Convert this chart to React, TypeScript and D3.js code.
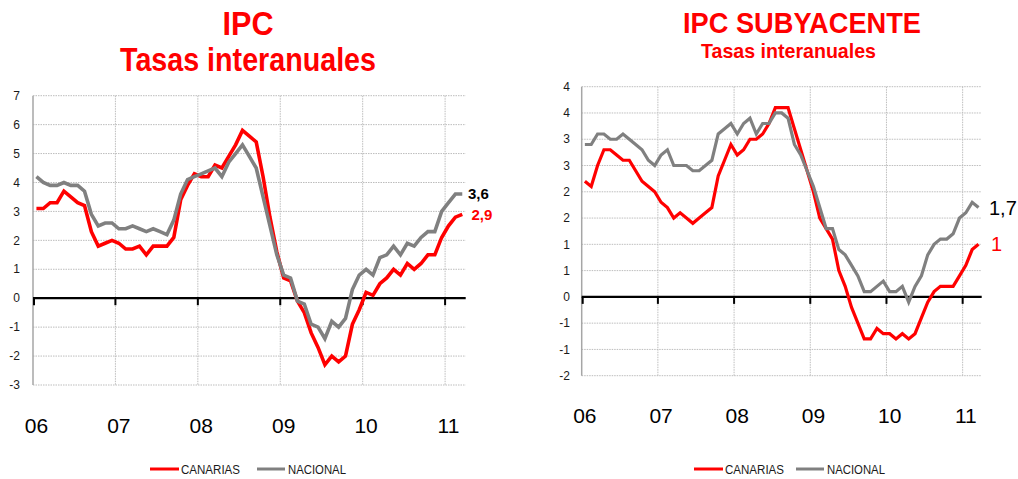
import React from 'react';
import * as d3 from 'd3';

const yearLabels = ['06', '07', '08', '09', '10', '11'];
const monthCodes = ['01', '02', '03', '04', '05', '06', '07', '08', '09', '10', '11', '12'];
const months = yearLabels.flatMap((y) => monthCodes.map((m) => `${m}/${y}`)).slice(0, 63);

const ipcCanarias = [
  3.1, 3.1, 3.3, 3.3, 3.7, 3.5, 3.3, 3.2, 2.3, 1.8, 1.9, 2.0,
  1.9, 1.7, 1.7, 1.8, 1.5, 1.8, 1.8, 1.8, 2.1, 3.4, 3.9, 4.3,
  4.2, 4.2, 4.6, 4.5, 4.9, 5.3, 5.8, 5.6, 5.4, 4.2, 2.8, 1.6,
  0.7, 0.6, -0.1, -0.5, -1.2, -1.7, -2.3, -2.0, -2.2, -2.0, -0.9, -0.4,
  0.2, 0.1, 0.5, 0.7, 1.0, 0.8, 1.2, 1.0, 1.2, 1.5, 1.5, 2.1,
  2.5, 2.8, 2.9,
];
const ipcNacional = [
  4.2, 4.0, 3.9, 3.9, 4.0, 3.9, 3.9, 3.7, 2.9, 2.5, 2.6, 2.6,
  2.4, 2.4, 2.5, 2.4, 2.3, 2.4, 2.3, 2.2, 2.7, 3.6, 4.1, 4.2,
  4.3, 4.4, 4.5, 4.2, 4.7, 5.0, 5.3, 4.9, 4.5, 3.5, 2.5, 1.5,
  0.8, 0.7, -0.1, -0.2, -0.9, -1.0, -1.4, -0.8, -1.0, -0.7, 0.3, 0.8,
  1.0, 0.8, 1.4, 1.5, 1.8, 1.5, 1.9, 1.8, 2.1, 2.3, 2.3, 3.0,
  3.3, 3.6, 3.6,
];
const subCanarias = [
  2.2, 2.1, 2.5, 2.8, 2.8, 2.7, 2.6, 2.6, 2.4, 2.2, 2.1, 2.0,
  1.8, 1.7, 1.5, 1.6, 1.5, 1.4, 1.5, 1.6, 1.7, 2.3, 2.6, 2.9,
  2.7, 2.8, 3.0, 3.0, 3.1, 3.3, 3.6, 3.6, 3.6, 3.2, 2.8, 2.4,
  2.0, 1.5, 1.3, 1.1, 0.5, 0.2, -0.2, -0.5, -0.8, -0.8, -0.6, -0.7,
  -0.7, -0.8, -0.7, -0.8, -0.7, -0.4, -0.1, 0.1, 0.2, 0.2, 0.2, 0.4,
  0.6, 0.9, 1.0,
];
const subNacional = [
  2.9, 2.9, 3.1, 3.1, 3.0, 3.0, 3.1, 3.0, 2.9, 2.8, 2.6, 2.5,
  2.7, 2.8, 2.5, 2.5, 2.5, 2.4, 2.4, 2.5, 2.6, 3.1, 3.2, 3.3,
  3.1, 3.3, 3.4, 3.1, 3.3, 3.3, 3.5, 3.5, 3.4, 2.9, 2.7, 2.4,
  2.1, 1.7, 1.3, 1.3, 0.9, 0.8, 0.6, 0.4, 0.1, 0.1, 0.2, 0.3,
  0.1, 0.1, 0.2, -0.1, 0.2, 0.4, 0.8, 1.0, 1.1, 1.1, 1.2, 1.5,
  1.6, 1.8, 1.7,
];
const ipcTicks = [-3, -2, -1, 0, 1, 2, 3, 4, 5, 6, 7];
const subTicks = [-1.5, -1, -0.5, 0, 0.5, 1, 1.5, 2, 2.5, 3, 3.5, 4];
const seriesNames = ['CANARIAS', 'NACIONAL'];
const ipcEndLabels = ['2,9', '3,6'];
const subEndLabels = ['1', '1,7'];

const RED = '#FF0000';
const GRAY = '#808080';
const GRID = '#BDBDBD';
const SANS = "'Liberation Sans', Arial, sans-serif";
const NARROW = "'Liberation Sans Narrow', 'Liberation Sans', Arial, sans-serif";

function Panel(props: any) {
  const { x0, x1, yTop, yBot, domain, ticks, fmt, canarias, nacional, lw, labelRight, yFont, xFont, xBase, endLabels, endStyle, legend } = props;
  const x = d3.scaleBand<string>().domain(months).range([x0, x1]).paddingInner(0).paddingOuter(0);
  const bw = x.bandwidth();
  const y = d3.scaleLinear().domain(domain).range([yBot, yTop]);
  const cx = (i: number) => (x(months[i]) as number) + bw / 2;
  const line = d3.line<number>().x((_, i) => cx(i)).y((d) => y(d));
  const yearIdx = yearLabels.map((_, k) => k * 12);
  const y0 = y(0);
  const last = months.length - 1;
  return (
    <g>
      {ticks.filter((t: number) => t !== 0).map((t: number) => (
        <line key={'h' + t} x1={x0} x2={x1} y1={y(t)} y2={y(t)} stroke={GRID} strokeWidth={1} strokeDasharray="1.5,1" />
      ))}
      {yearIdx.slice(1).map((i) => (
        <line key={'v' + i} x1={x(months[i])} x2={x(months[i])} y1={yTop} y2={yBot} stroke={GRID} strokeWidth={1} strokeDasharray="1.5,1" />
      ))}
      <line x1={x0} x2={x0} y1={yTop} y2={yBot} stroke="#A6A6A6" strokeWidth={1.5} />
      {ticks.map((t: number) => (
        <text key={'yl' + t} x={labelRight} y={y(t)} dy="0.35em" textAnchor="end" fontFamily={SANS} fontSize={yFont} fill="#1a1a1a">
          {fmt(t)}
        </text>
      ))}
      <line x1={x0} x2={x1} y1={y0} y2={y0} stroke="#000" strokeWidth={2.2} />
      {yearIdx.map((i) => (
        <line key={'t' + i} x1={(x(months[i]) as number) + (i === 0 ? 1 : 0)} x2={(x(months[i]) as number) + (i === 0 ? 1 : 0)} y1={y0} y2={y0 + 7} stroke="#000" strokeWidth={2} />
      ))}
      {yearIdx.map((i, k) => (
        <text key={'xl' + i} x={cx(i)} y={xBase} textAnchor="middle" fontFamily={SANS} fontSize={xFont} fill="#000">
          {yearLabels[k]}
        </text>
      ))}
      <path d={line(canarias) as string} fill="none" stroke={RED} strokeWidth={lw} strokeLinejoin="miter" />
      <path d={line(nacional) as string} fill="none" stroke={GRAY} strokeWidth={lw} strokeLinejoin="miter" />
      <text x={endStyle.xr} y={y(canarias[last])} dy="0.35em" fontFamily={SANS} fontSize={endStyle.size} fontWeight={endStyle.weight} fill={RED}>
        {endLabels[0]}
      </text>
      <text x={endStyle.xn} y={y(nacional[last])} dy="0.35em" fontFamily={SANS} fontSize={endStyle.size} fontWeight={endStyle.weight} fill="#000">
        {endLabels[1]}
      </text>
      <g>
        <line x1={legend.l1} x2={legend.l1 + 29} y1={legend.y} y2={legend.y} stroke={RED} strokeWidth={3} />
        <text x={legend.l1 + 31} y={legend.y + 4.5} fontFamily={SANS} fontSize={12} textLength={59} lengthAdjust="spacingAndGlyphs" fill="#1a1a1a">
          {seriesNames[0]}
        </text>
        <line x1={legend.l2} x2={legend.l2 + 28} y1={legend.y} y2={legend.y} stroke={GRAY} strokeWidth={3} />
        <text x={legend.l2 + 31} y={legend.y + 4.5} fontFamily={SANS} fontSize={12} textLength={58} lengthAdjust="spacingAndGlyphs" fill="#1a1a1a">
          {seriesNames[1]}
        </text>
      </g>
    </g>
  );
}

const fmtInt = (v: number) => String(v);
const fmtRound = (v: number) => v.toFixed(0);

export default function App() {
  return (
    <svg width={1018} height={479} style={{ position: 'absolute', left: 0, top: 0, background: '#fff' }}>
      <rect width={1018} height={479} fill="#fff" />
      <text x={248} y={35} textAnchor="middle" fontFamily={NARROW} fontWeight="bold" fontSize={33} fill={RED} textLength={51} lengthAdjust="spacingAndGlyphs">IPC</text>
      <text x={248} y={71} textAnchor="middle" fontFamily={NARROW} fontWeight="bold" fontSize={33} fill={RED} textLength={256} lengthAdjust="spacingAndGlyphs">Tasas interanuales</text>
      <text x={802} y={33} textAnchor="middle" fontFamily={NARROW} fontWeight="bold" fontSize={29} fill={RED} textLength={238} lengthAdjust="spacingAndGlyphs">IPC SUBYACENTE</text>
      <text x={788.5} y={58} textAnchor="middle" fontFamily={NARROW} fontWeight="bold" fontSize={20.5} fill={RED} textLength={175} lengthAdjust="spacingAndGlyphs">Tasas interanuales</text>
      <Panel
        x0={33} x1={465.7} yTop={95.7} yBot={385} domain={[-3, 7]} ticks={ipcTicks} fmt={fmtInt}
        canarias={ipcCanarias} nacional={ipcNacional} lw={3.6} labelRight={20} yFont={12} xFont={21} xBase={433}
        endLabels={ipcEndLabels} endStyle={{ xr: 471.5, xn: 468, size: 15, weight: 'bold' }}
        legend={{ l1: 150, l2: 257, y: 469 }}
      />
      <Panel
        x0={581.7} x1={981.7} yTop={86.7} yBot={375.7} domain={[-1.5, 4]} ticks={subTicks} fmt={fmtRound}
        canarias={subCanarias} nacional={subNacional} lw={3.2} labelRight={570} yFont={12} xFont={21} xBase={423}
        endLabels={subEndLabels} endStyle={{ xr: 991, xn: 989, size: 20, weight: 'normal' }}
        legend={{ l1: 694, l2: 796, y: 469 }}
      />
    </svg>
  );
}
